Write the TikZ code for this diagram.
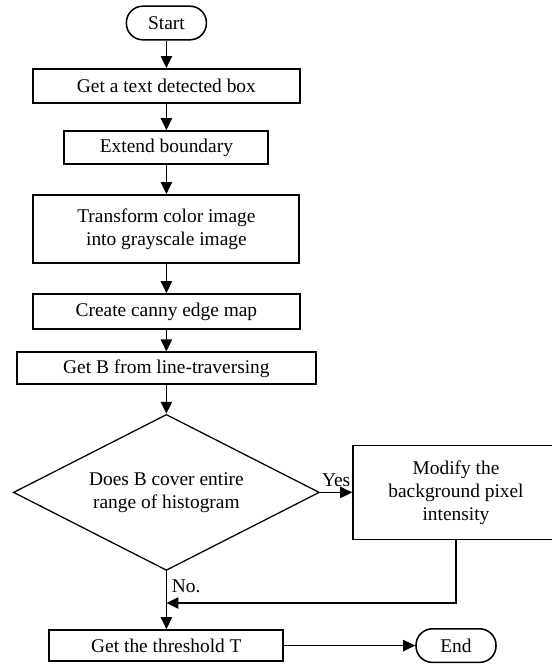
\documentclass[tikz,border=0pt]{standalone}
\usepackage{fontspec}
\setmainfont{Liberation Serif}
\usetikzlibrary{shapes.geometric,arrows.meta,positioning}
\newcommand{\chartfont}{\fontsize{13.8}{16.3}\selectfont}
\tikzset{
    process/.style={rectangle, draw, line width=1.3pt, inner sep=0pt, align=center, font=\chartfont},
    terminal/.style={rectangle, rounded corners=0.41cm, draw, line width=1.1pt, minimum width=2cm, minimum height=0.84cm, inner sep=0pt, font=\chartfont},
    decision/.style={diamond, draw, line width=0.9pt, aspect=1.96, minimum width=7.65cm, minimum height=3.9cm, inner sep=0pt, align=center, font=\chartfont},
    flow/.style={draw, line width=1.1pt, -{Triangle[length=3mm, width=2.8mm]}},
    tag/.style={font=\chartfont}
}

\begin{document}
\begin{tikzpicture}
    \clip (0,0) rectangle (13.8,-16.6);
    % Nodes
    \node[terminal] (start) at (4.16,-0.575) {Start};
    \node[process, minimum width=6.675cm, minimum height=0.85cm] (detect) at (4.16,-2.15) {Get a text detected box};
    \node[process, minimum width=5.1cm, minimum height=0.825cm] (extend) at (4.16,-3.69) {Extend boundary};
    \node[process, minimum width=6.65cm, minimum height=1.7cm] (gray) at (4.16,-5.725) {Transform color image\\into grayscale image};
    \node[process, minimum width=6.675cm, minimum height=0.875cm] (canny) at (4.16,-7.79) {Create canny edge map};
    \node[process, minimum width=7.475cm, minimum height=0.8cm] (traverse) at (4.16,-9.21) {Get B from line-traversing};
    \node[decision] (cover) at (4.16,-12.31) {Does B cover entire\\range of histogram};
    \node[process, line width=1.1pt, minimum width=5.15cm, minimum height=2.35cm] (modify) at (11.4,-12.31) {Modify the\\background pixel\\intensity};
    \node[process, minimum width=5.85cm, minimum height=0.775cm] (thresh) at (4.16,-16.14) {Get the threshold T};
    \node[terminal] (end) at (11.4,-16.14) {End};
    \coordinate (back) at (11.4,-15.075);

    % edges
    \draw[flow] (start) -- (detect);
    \draw[flow] (detect) -- (extend);
    \draw[flow] (extend) -- (gray);
    \draw[flow] (gray) -- (canny);
    \draw[flow] (canny) -- (traverse);
    \draw[flow] (traverse) -- (cover);
    \draw[flow] (cover) -- node[above, tag] {Yes} (modify);
    \draw[flow] (cover) -- node[pos=0.27, right, tag] {No.} (thresh);
    \draw[flow] (modify) -- (back) -- (back -| cover);
    \draw[flow] (thresh) -- (end);
\end{tikzpicture}
\end{document}
